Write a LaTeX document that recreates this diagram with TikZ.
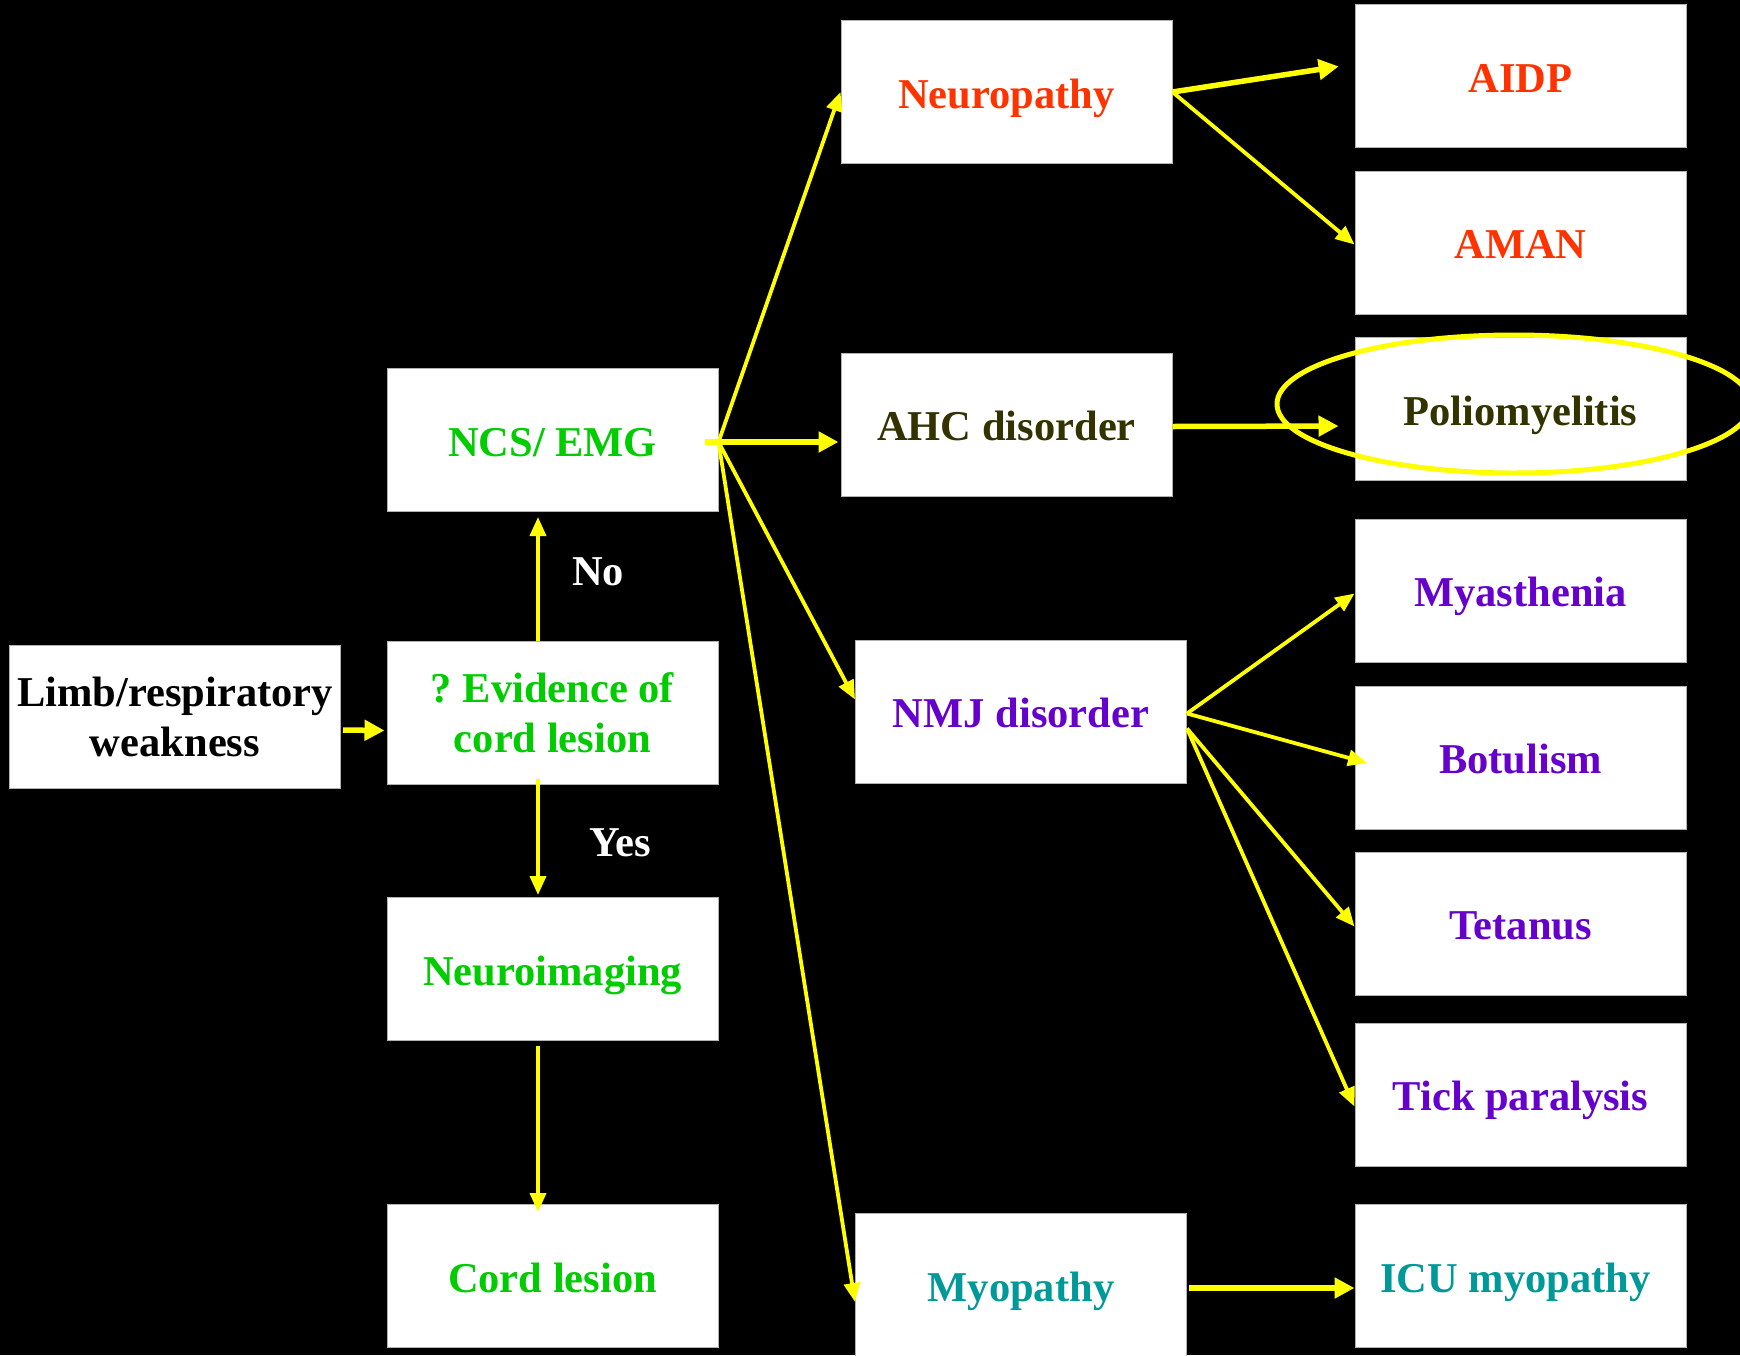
\documentclass[tikz,border=0pt]{standalone}
\usepackage{fontspec}
\setmainfont{Liberation Serif}
\usetikzlibrary{arrows.meta}
\definecolor{cgreen}{HTML}{00CC00}
\definecolor{cred}{HTML}{FF3300}
\definecolor{colive}{HTML}{333300}
\definecolor{cpurple}{HTML}{6600CC}
\definecolor{cteal}{HTML}{009999}
\definecolor{cyel}{HTML}{FFFF00}
\tikzset{
  box/.style={rectangle, fill=white, draw=gray!60, line width=1pt,
    minimum width=331pt, minimum height=143pt, inner sep=0pt,
    align=center, font=\fontsize{42.5}{50}\selectfont\bfseries},
  one/.style={text height=38pt, text depth=6pt},
  lbl/.style={text=white, font=\fontsize{42.5}{50}\selectfont\bfseries},
  arr/.style={draw=cyel, line width=3.8pt, -{Triangle[length=19pt,width=16pt]}},
  tarr/.style={draw=cyel, line width=5.5pt, -{Triangle[length=20pt,width=20pt]}},
}
\begin{document}
\begin{tikzpicture}[x=1pt,y=-1pt]
\fill[black] (0,0) rectangle (1740,1355);
\useasboundingbox (0,0) rectangle (1740,1355);
\clip (0,0) rectangle (1740,1355);

\node[box, text=black] (limb) at (175,717) {Limb/respiratory\\weakness};
\node[box, one, text=cgreen] (ncs) at (552.5,440) {NCS/ EMG};
\node[box, text=cgreen] (ev) at (552.5,713) {?\ Evidence of\\cord lesion};
\node[box, one, text=cgreen] (nimg) at (552.5,969) {Neuroimaging};
\node[box, one, text=cgreen] (cord) at (552.5,1276) {Cord lesion};
\node[box, one, text=cred] (neuro) at (1006.5,92) {Neuropathy};
\node[box, one, text=colive] (ahc) at (1006.5,424.5) {AHC disorder};
\node[box, one, text=cpurple] (nmj) at (1021,711.5) {NMJ disorder};
\node[box, one, text=cteal] (myo) at (1021,1285) {Myopathy};
\node[box, one, text=cred] (aidp) at (1520.5,76) {AIDP};
\node[box, one, text=cred] (aman) at (1520.5,242.5) {AMAN};
\node[box, one, text=colive] (polio) at (1520.5,409) {Poliomyelitis};
\node[box, one, text=cpurple] (mya) at (1520.5,590.5) {Myasthenia};
\node[box, one, text=cpurple] (bot) at (1520.5,757.5) {Botulism};
\node[box, one, text=cpurple] (tet) at (1520.5,923.5) {Tetanus};
\node[box, one, text=cpurple] (tick) at (1520.5,1094.5) {Tick paralysis};
\node[box, one, text=cteal] (icu) at (1520.5,1276) {\hspace*{-10pt}ICU myopathy};

\node[lbl] (no) at (598,572) {No};
\node[lbl] (yes) at (620,843) {Yes};

% ellipse around Poliomyelitis
\draw[cyel, line width=5pt] (1514,404) ellipse [x radius=237pt, y radius=69pt];

% connectors
\draw[tarr, shorten <=2pt, shorten >=2pt] ([yshift=-13pt]limb.east) -- ([yshift=-17.5pt]ev.west);
\draw[arr, shorten >=5pt] ([xshift=-14.5pt]ev.north) -- ([xshift=-14.5pt]ncs.south);
\draw[arr, shorten <=-6pt, shorten >=2pt] ([xshift=-14.5pt]ev.south) -- ([xshift=-14.5pt]nimg.north);
\draw[arr, shorten <=5pt, shorten >=-8pt] ([xshift=-14.5pt]nimg.south) -- ([xshift=-14.5pt]cord.north);

\coordinate (hub) at ([yshift=-2pt]ncs.east);
\draw[tarr, shorten >=2pt] ([xshift=-14pt]hub) -- (hub -| ahc.west);
\draw[arr] (hub) -- (neuro.west);
\draw[arr] (hub) -- ([yshift=12pt]nmj.west);
\draw[arr] (hub) -- ([yshift=-17pt]myo.west);

\draw[tarr, shorten >=16pt] (neuro.east) -- ([yshift=12pt]aidp.west);
\draw[arr] (neuro.east) -- ([yshift=-2pt]aman.west);
\draw[tarr, shorten >=16pt] ([yshift=-2pt]ahc.east) -- ([yshift=-17pt]polio.west);

\draw[arr] ([yshift=-2pt]nmj.east) -- ([yshift=-3pt]mya.west);
\draw[arr, shorten >=-13pt] ([yshift=-2pt]nmj.east) -- ([yshift=-2pt]bot.west);
\draw[arr] ([yshift=-17pt]nmj.east) -- ([yshift=-3pt]tet.west);
\draw[arr] ([yshift=-17pt]nmj.east) -- ([yshift=-12pt]tick.west);
\draw[tarr, shorten <=2pt] ([yshift=-3pt]myo.east) -- ([yshift=-12pt]icu.west);
\end{tikzpicture}
\end{document}
